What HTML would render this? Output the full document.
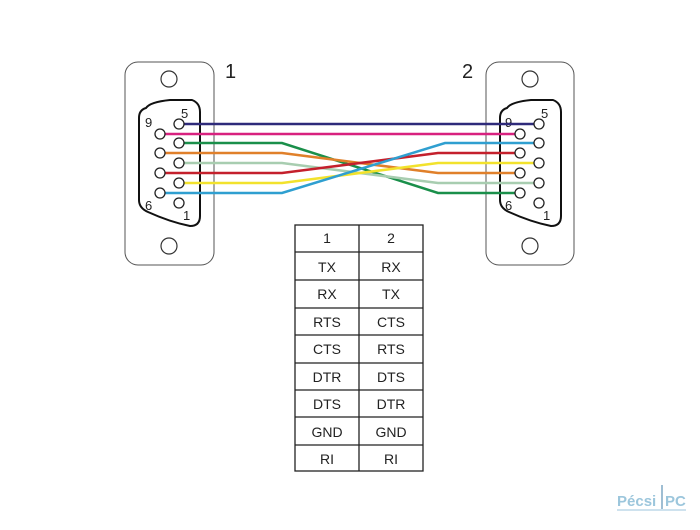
<!DOCTYPE html>
<html><head><meta charset="utf-8"><style>
html,body{margin:0;padding:0;background:#fff;}
svg{display:block;}
text{font-family:"Liberation Sans",sans-serif;}
</style></head><body>
<svg width="700" height="530" viewBox="0 0 700 530" xmlns="http://www.w3.org/2000/svg">
<!-- left connector -->
<rect x="125" y="62" width="89" height="203" rx="13" fill="#fff" stroke="#555" stroke-width="1"/>
<circle cx="169" cy="79" r="8" fill="none" stroke="#333" stroke-width="1.2"/>
<circle cx="169" cy="246" r="8" fill="none" stroke="#333" stroke-width="1.2"/>
<path d="M146,108 Q150,102 170,100 L192,100 Q200,103 200,112 L200,216 Q200,226 190,226 Q170,222 148,212 Q139,208 139,200 L139,118 Q139,110 146,108Z" fill="none" stroke="#111" stroke-width="2"/>
<text x="225" y="78" font-size="20" fill="#222">1</text>
<text x="181" y="118" font-size="13" fill="#222">5</text>
<text x="145" y="127" font-size="13" fill="#222">9</text>
<text x="145" y="210" font-size="13" fill="#222">6</text>
<text x="183" y="220" font-size="13" fill="#222">1</text>
<!-- right connector -->
<rect x="486" y="62" width="88" height="203" rx="13" fill="#fff" stroke="#555" stroke-width="1"/>
<circle cx="530" cy="79" r="8" fill="none" stroke="#333" stroke-width="1.2"/>
<circle cx="530" cy="246" r="8" fill="none" stroke="#333" stroke-width="1.2"/>
<path d="M507,108 Q511,102 531,100 L553,100 Q561,103 561,112 L561,216 Q561,226 551,226 Q531,222 509,212 Q500,208 500,200 L500,118 Q500,110 507,108Z" fill="none" stroke="#111" stroke-width="2"/>
<text x="462" y="78" font-size="20" fill="#222">2</text>
<text x="541" y="118" font-size="13" fill="#222">5</text>
<text x="505" y="127" font-size="13" fill="#222">9</text>
<text x="505" y="210" font-size="13" fill="#222">6</text>
<text x="543" y="220" font-size="13" fill="#222">1</text>
<!-- wires -->
<g fill="none" stroke-width="2.5">
<path d="M183,124 L539,124" stroke="#2e2a7a"/>
<path d="M164,134 L520,134" stroke="#d8217f"/>
<path d="M183,143 L282,143 L438,193 L520,193" stroke="#1a8f4a"/>
<path d="M164,153 L282,153 L438,173 L520,173" stroke="#e0802a"/>
<path d="M183,163 L282,163 L438,183 L539,183" stroke="#a8cdb0"/>
<path d="M164,173 L282,173 L438,153 L520,153" stroke="#c4202c"/>
<path d="M183,183 L282,183 L438,163 L539,163" stroke="#f2e22c"/>
<path d="M164,193 L282,193 L445,143 L539,143" stroke="#2f9fd0"/>
</g>
<!-- pins -->
<g fill="#fff" stroke="#222" stroke-width="1.3">
<circle cx="179" cy="124" r="5"/><circle cx="160" cy="134" r="5"/><circle cx="179" cy="143" r="5"/><circle cx="160" cy="153" r="5"/><circle cx="179" cy="163" r="5"/><circle cx="160" cy="173" r="5"/><circle cx="179" cy="183" r="5"/><circle cx="160" cy="193" r="5"/><circle cx="179" cy="203" r="5"/>
<circle cx="539" cy="124" r="5"/><circle cx="520" cy="134" r="5"/><circle cx="539" cy="143" r="5"/><circle cx="520" cy="153" r="5"/><circle cx="539" cy="163" r="5"/><circle cx="520" cy="173" r="5"/><circle cx="539" cy="183" r="5"/><circle cx="520" cy="193" r="5"/><circle cx="539" cy="203" r="5"/>
</g>
<!-- table -->
<g stroke="#222" stroke-width="1.3" fill="none">
<rect x="295" y="225" width="128" height="246"/>
<line x1="359" y1="225" x2="359" y2="471"/>
<line x1="295" y1="252" x2="423" y2="252"/>
<line x1="295" y1="280" x2="423" y2="280"/>
<line x1="295" y1="308" x2="423" y2="308"/>
<line x1="295" y1="335" x2="423" y2="335"/>
<line x1="295" y1="363" x2="423" y2="363"/>
<line x1="295" y1="390" x2="423" y2="390"/>
<line x1="295" y1="417" x2="423" y2="417"/>
<line x1="295" y1="445" x2="423" y2="445"/>
</g>
<g font-size="14" fill="#222" text-anchor="middle">
<text x="327" y="243">1</text><text x="391" y="243">2</text>
<text x="327" y="272">TX</text><text x="391" y="272">RX</text>
<text x="327" y="299">RX</text><text x="391" y="299">TX</text>
<text x="327" y="327">RTS</text><text x="391" y="327">CTS</text>
<text x="327" y="354">CTS</text><text x="391" y="354">RTS</text>
<text x="327" y="382">DTR</text><text x="391" y="382">DTS</text>
<text x="327" y="409">DTS</text><text x="391" y="409">DTR</text>
<text x="327" y="437">GND</text><text x="391" y="437">GND</text>
<text x="327" y="464">RI</text><text x="391" y="464">RI</text>
</g>
<!-- logo -->
<text x="617" y="506" font-size="15" fill="#9cc6dc" font-weight="bold">Pécsi</text>
<line x1="662" y1="485" x2="662" y2="509" stroke="#7fa9c4" stroke-width="1.5"/>
<text x="665" y="506" font-size="15" fill="#9cc6dc" font-weight="bold">PC</text>
<line x1="617" y1="510" x2="686" y2="510" stroke="#9cc6dc" stroke-width="1"/>
</svg>
</body></html>
